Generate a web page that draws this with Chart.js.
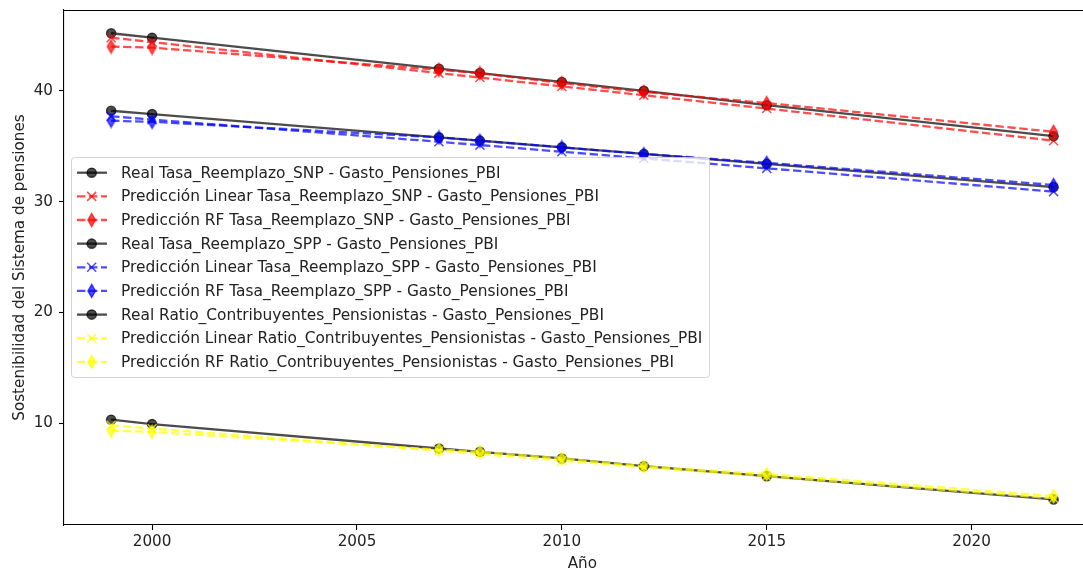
<!DOCTYPE html>
<html>
<head>
<meta charset="utf-8">
<script src="https://cdn.jsdelivr.net/npm/chart.js@4"></script>
<style>
  html, body { margin: 0; padding: 0; background: #fff; overflow: hidden; }
  #wrap { position: absolute; left: 0; top: 0; width: 1109px; height: 576px; }
</style>
</head>
<body>
<div id="wrap"><canvas id="chart" width="1109" height="576"></canvas></div>
<script>
// years on the x axis
const years = [1999, 2000, 2007, 2008, 2010, 2012, 2015, 2022];

// Tasa_Reemplazo_SNP
const realSNP = [45.2, 44.8, 42.0, 41.6, 40.8, 40.0, 38.7, 35.9];
const linSNP  = [44.8, 44.4, 41.6, 41.2, 40.4, 39.6, 38.4, 35.5];
const rfSNP   = [44.0, 43.9, 41.9, 41.6, 40.7, 39.9, 38.9, 36.3];

// Tasa_Reemplazo_SPP
const realSPP = [38.2, 37.9, 35.8, 35.5, 34.9, 34.3, 33.4, 31.3];
const linSPP  = [37.7, 37.4, 35.4, 35.1, 34.5, 33.9, 33.0, 30.9];
const rfSPP   = [37.3, 37.2, 35.8, 35.5, 34.9, 34.3, 33.5, 31.5];

// Ratio_Contribuyentes_Pensionistas
const realRatio = [10.3, 9.9, 7.7, 7.4, 6.8, 6.1, 5.2, 3.1];
const linRatio  = [9.8, 9.5, 7.5, 7.2, 6.6, 6.0, 5.2, 3.2];
const rfRatio   = [9.3, 9.2, 7.6, 7.4, 6.8, 6.1, 5.4, 3.4];

const FONT = '"DejaVu Sans", sans-serif';
const FS = 15.2;
const LEG_FS = 15.4;
const DASH = [8.4, 3.6];

const colors = {
    black: 'rgba(0,0,0,0.7)',
    red: 'rgba(255,0,0,0.7)',
    blue: 'rgba(0,0,255,0.7)',
    yellow: 'rgba(255,255,0,0.7)'
};

// thin diamond marker (matplotlib 'd')
function diamondImg(color) {
    const c = document.createElement('canvas');
    c.width = 11; c.height = 16;
    const g = c.getContext('2d');
    g.beginPath();
    g.moveTo(5.5, 1.5); g.lineTo(9.3, 8); g.lineTo(5.5, 14.5); g.lineTo(1.7, 8);
    g.closePath();
    g.fillStyle = color; g.fill();
    g.strokeStyle = color; g.lineWidth = 1.4; g.stroke();
    return c;
}

function series(label, values, color, kind) {
    const base = {
        label: label,
        data: years.map((y, i) => ({ x: y, y: values[i] })),
        borderColor: color,
        backgroundColor: color,
        borderWidth: 2.3,
        pointBorderColor: color,
        pointBackgroundColor: color,
        kind: kind,
        markColor: color
    };
    if (kind === 'real') {
        base.pointStyle = 'circle';
        base.pointRadius = 4.6;
        base.pointBorderWidth = 1.4;
    } else if (kind === 'lin') {
        base.borderDash = DASH;
        base.pointStyle = 'crossRot';
        base.pointRadius = 6.4;
        base.pointBorderWidth = 1.5;
    } else {
        base.borderDash = DASH;
        base.pointStyle = diamondImg(color);
        base.pointRadius = 6;
    }
    return base;
}

const datasets = [
    series('Real Tasa_Reemplazo_SNP - Gasto_Pensiones_PBI', realSNP, colors.black, 'real'),
    series('Predicción Linear Tasa_Reemplazo_SNP - Gasto_Pensiones_PBI', linSNP, colors.red, 'lin'),
    series('Predicción RF Tasa_Reemplazo_SNP - Gasto_Pensiones_PBI', rfSNP, colors.red, 'rf'),
    series('Real Tasa_Reemplazo_SPP - Gasto_Pensiones_PBI', realSPP, colors.black, 'real'),
    series('Predicción Linear Tasa_Reemplazo_SPP - Gasto_Pensiones_PBI', linSPP, colors.blue, 'lin'),
    series('Predicción RF Tasa_Reemplazo_SPP - Gasto_Pensiones_PBI', rfSPP, colors.blue, 'rf'),
    series('Real Ratio_Contribuyentes_Pensionistas - Gasto_Pensiones_PBI', realRatio, colors.black, 'real'),
    series('Predicción Linear Ratio_Contribuyentes_Pensionistas - Gasto_Pensiones_PBI', linRatio, colors.yellow, 'lin'),
    series('Predicción RF Ratio_Contribuyentes_Pensionistas - Gasto_Pensiones_PBI', rfRatio, colors.yellow, 'rf')
];
// later series drawn on top, like matplotlib
datasets.forEach((d, i) => { d.order = datasets.length - 1 - i; });

function drawMarker(ctx, kind, color, x, y) {
    ctx.save();
    ctx.fillStyle = color;
    ctx.strokeStyle = color;
    ctx.setLineDash([]);
    if (kind === 'real') {
        ctx.lineWidth = 1.4;
        ctx.beginPath();
        ctx.arc(x, y, 4.6, 0, Math.PI * 2);
        ctx.fill();
        ctx.stroke();
    } else if (kind === 'lin') {
        ctx.lineWidth = 1.5;
        ctx.beginPath();
        ctx.moveTo(x - 4.5, y - 4.5); ctx.lineTo(x + 4.5, y + 4.5);
        ctx.moveTo(x - 4.5, y + 4.5); ctx.lineTo(x + 4.5, y - 4.5);
        ctx.stroke();
    } else {
        ctx.lineWidth = 1.4;
        ctx.beginPath();
        ctx.moveTo(x, y - 6.5); ctx.lineTo(x + 3.8, y); ctx.lineTo(x, y + 6.5); ctx.lineTo(x - 3.8, y);
        ctx.closePath();
        ctx.fill();
        ctx.stroke();
    }
    ctx.restore();
}

// matplotlib-like legend box inside the axes, plus the top/right spines
const boxLegend = {
    id: 'boxLegend',
    afterDraw(chart) {
        const ctx = chart.ctx;
        const a = chart.chartArea;
        ctx.save();
        ctx.strokeStyle = '#000';
        ctx.lineWidth = 1.1;
        ctx.beginPath();
        ctx.moveTo(a.left, a.top + 0.5); ctx.lineTo(a.right, a.top + 0.5);
        ctx.moveTo(a.right - 0.5, a.top); ctx.lineTo(a.right - 0.5, a.bottom);
        ctx.stroke();

        const bx = 71.5, by = 157.5, bw = 638, bh = 220, r = 3;
        ctx.beginPath();
        ctx.moveTo(bx + r, by);
        ctx.arcTo(bx + bw, by, bx + bw, by + bh, r);
        ctx.arcTo(bx + bw, by + bh, bx, by + bh, r);
        ctx.arcTo(bx, by + bh, bx, by, r);
        ctx.arcTo(bx, by, bx + bw, by, r);
        ctx.closePath();
        ctx.fillStyle = 'rgba(255,255,255,0.8)';
        ctx.fill();
        ctx.strokeStyle = 'rgba(204,204,204,0.8)';
        ctx.lineWidth = 1;
        ctx.stroke();

        ctx.font = LEG_FS + 'px ' + FONT;
        ctx.textBaseline = 'middle';
        chart.data.datasets.forEach((d, i) => {
            const y = 172.7 + i * 23.65;
            ctx.strokeStyle = d.markColor;
            ctx.lineWidth = 2.3;
            ctx.setLineDash(d.kind === 'real' ? [] : DASH);
            ctx.beginPath();
            ctx.moveTo(77, y); ctx.lineTo(107, y);
            ctx.stroke();
            ctx.setLineDash([]);
            drawMarker(ctx, d.kind, d.markColor, 91.7, y);
            ctx.fillStyle = '#222';
            ctx.fillText(d.label, 121, y + 1);
        });
        ctx.restore();
    }
};

new Chart(document.getElementById('chart'), {
    type: 'line',
    data: { datasets: datasets },
    options: {
        responsive: false,
        devicePixelRatio: 1,
        animation: false,
        layout: { padding: { top: 10, right: 2, left: 0, bottom: 0 } },
        plugins: {
            legend: { display: false },
            tooltip: { enabled: false }
        },
        scales: {
            x: {
                type: 'linear',
                min: 1997.85,
                max: 2023.15,
                afterFit: (s) => { s.height = 51; s.paddingLeft = 0; s.paddingRight = 0; },
                ticks: {
                    stepSize: 5,
                    includeBounds: false,
                    padding: 3,
                    color: '#222',
                    font: { family: FONT, size: FS },
                    callback: (v) => String(v)
                },
                grid: { drawOnChartArea: false, drawTicks: true, tickLength: 5, color: '#000', tickWidth: 1.1 },
                border: { display: true, color: '#000', width: 1.1 },
                title: { display: true, text: 'Año', color: '#222', font: { family: FONT, size: FS }, padding: { top: 4, bottom: 3 } }
            },
            y: {
                min: 0.79,
                max: 47.3,
                afterFit: (s) => { s.width = 64; s.paddingTop = 0; s.paddingBottom = 0; },
                ticks: {
                    stepSize: 10,
                    includeBounds: false,
                    padding: 6,
                    color: '#222',
                    font: { family: FONT, size: FS }
                },
                grid: { drawOnChartArea: false, drawTicks: true, tickLength: 5, color: '#000', tickWidth: 1.1 },
                border: { display: true, color: '#000', width: 1.1 },
                title: { display: true, text: 'Sostenibilidad del Sistema de pensiones', color: '#222', font: { family: FONT, size: FS }, padding: { top: 11, bottom: 0 } }
            }
        }
    },
    plugins: [boxLegend]
});
</script>
</body>
</html>
